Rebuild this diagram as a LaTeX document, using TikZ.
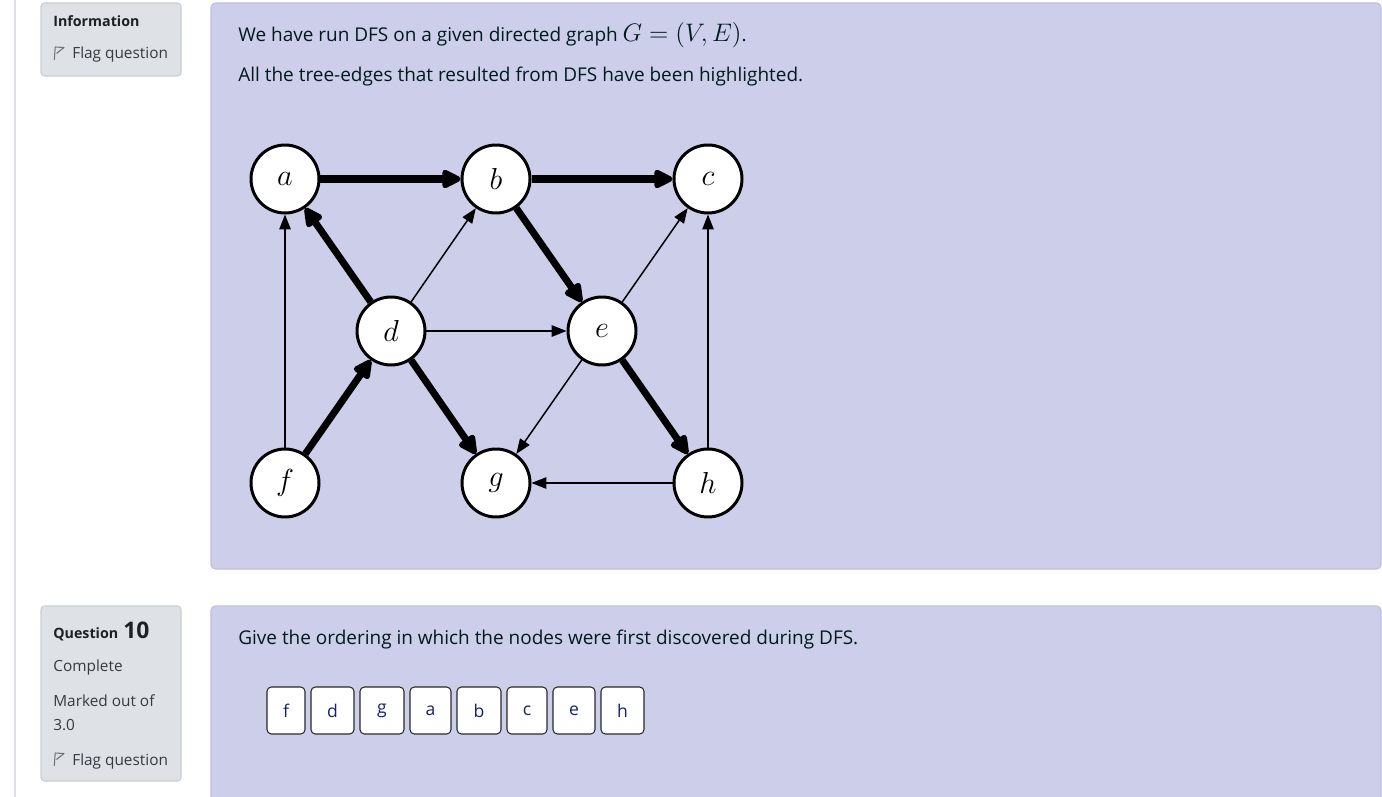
\documentclass[tikz,border=0pt]{standalone}
\usepackage{fontspec}
\setmainfont{Open Sans}
\usetikzlibrary{arrows.meta}
\definecolor{lav}{RGB}{205,206,234}
\definecolor{lavborder}{RGB}{190,191,222}
\definecolor{sidegray}{RGB}{222,226,230}
\definecolor{sideborder}{RGB}{200,205,211}
\definecolor{linegray}{RGB}{222,226,230}
\definecolor{maintext}{RGB}{0,26,30}
\definecolor{sidetext}{RGB}{55,58,66}
\definecolor{sidedark}{RGB}{29,33,37}
\definecolor{flaggray}{RGB}{110,116,122}
\definecolor{ansborder}{RGB}{40,40,40}
\definecolor{anstext}{RGB}{20,35,110}
\newcommand{\bigmath}[1]{{\fontsize{14}{16}\selectfont$#1$}}
\tikzset{
  vert/.style={circle, draw=black, fill=white, line width=1.7pt, minimum size=68*0.02cm, inner sep=0pt, font=\fontsize{16}{18}\selectfont},
  treeedge/.style={line width=4pt, -{Triangle[length=12.5pt,width=11.5pt,round]}},
  otheredge/.style={line width=0.85pt, -{Triangle[length=8.5pt,width=6.5pt]}},
  sidebox/.style={fill=sidegray, draw=sideborder, line width=0.6pt, rounded corners=2pt},
  qbox/.style={fill=lav, draw=lavborder, line width=0.6pt, rounded corners=2.5pt},
  ansbox/.style={fill=white, draw=ansborder, line width=0.6pt, rounded corners=2.5pt},
  anslabel/.style={font=\fontsize{10}{12}\selectfont, text=anstext},
  maintxt/.style={anchor=base west, inner sep=0pt, font=\fontsize{10.8}{13}\selectfont, text=maintext},
  sidetxt/.style={anchor=base west, inner sep=0pt, font=\fontsize{8.75}{10}\selectfont, text=sidetext},
  sidebold/.style={anchor=base west, inner sep=0pt, font=\fontsize{8.1}{10}\selectfont\bfseries, text=sidedark},
  flagicon/.style={draw=flaggray, line width=0.6pt, line join=round}
}
\begin{document}
\begin{tikzpicture}[x=0.02cm, y=-0.02cm]
\useasboundingbox (0,0) rectangle (1382,797);
\fill[white] (0,0) rectangle (1382,797);
\begin{scope}
\clip (0,0) rectangle (1382,797);
% left rule
\draw[linegray, line width=0.6pt] (15,0) -- (15,797);
% info box
\draw[sidebox] (41,3) rectangle (181,76);
\node[sidebold] (info) at (53,27) {Information};
\draw[flagicon] (54.3,60) -- (55.2,47) -- (64,47.5) -- (56.5,53.5);
\node[sidetxt] (flag1) at (72,59) {Flag question};
% question box
\draw[sidebox] (41,606) rectangle (181,781);
\node[sidebold] (qlabel) at (53,638) {Question};
\node[sidebold, font=\fontsize{13}{15}\selectfont\bfseries] (qnum) at (123,638) {10};
\node[sidetxt] (complete) at (53,671) {Complete};
\node[sidetxt] (marked) at (53,706) {Marked out of};
\node[sidetxt] (mark) at (53,730) {3.0};
\draw[flagicon] (54.3,766) -- (55.2,753) -- (64,753.5) -- (56.5,759.5);
\node[sidetxt] (flag2) at (72,765) {Flag question};
% formulation boxes
\draw[qbox] (211,3) rectangle (1381,569);
\draw[qbox] (211,606) rectangle (1381,820);
\end{scope}
% texts
\node[maintxt] (t1) at (238,42) {We have run DFS on a given directed graph \bigmath{G=(V,E)}.};
\node[maintxt] (t2) at (238,82) {All the tree-edges that resulted from DFS have been highlighted.};
\node[maintxt] (t3) at (238,644) {Give the ordering in which the nodes were first discovered during DFS.};
% graph
\node[vert] (a) at (285,179) {$a$};
\node[vert] (b) at (496,179) {$b$};
\node[vert] (c) at (708,179) {$c$};
\node[vert] (d) at (391,331) {$d$};
\node[vert] (e) at (602,331) {$e$};
\node[vert] (f) at (285,483) {$f$};
\node[vert] (g) at (496,483) {$g$};
\node[vert] (h) at (708,483) {$h$};
\draw[treeedge] (a) -- (b);
\draw[treeedge] (b) -- (c);
\draw[treeedge] (b) -- (e);
\draw[treeedge] (e) -- (h);
\draw[treeedge] (d) -- (a);
\draw[treeedge] (f) -- (d);
\draw[treeedge] (d) -- (g);
\draw[otheredge] (f) -- (a);
\draw[otheredge] (d) -- (b);
\draw[otheredge] (d) -- (e);
\draw[otheredge] (e) -- (c);
\draw[otheredge] (e) -- (g);
\draw[otheredge] (h) -- (g);
\draw[otheredge] (h) -- (c);
% answer boxes
\draw[ansbox] (267,687) rectangle (305,734);
\node[anslabel] (s1) at (286,711) {f};
\draw[ansbox] (311,687) rectangle (354,734);
\node[anslabel] (s2) at (332.5,711) {d};
\draw[ansbox] (360,687) rectangle (404,734);
\node[anslabel] (s3) at (382,711) {g};
\draw[ansbox] (410,687) rectangle (451,734);
\node[anslabel] (s4) at (430.5,711) {a};
\draw[ansbox] (457,687) rectangle (501,734);
\node[anslabel] (s5) at (479,711) {b};
\draw[ansbox] (507,687) rectangle (547,734);
\node[anslabel] (s6) at (527,711) {c};
\draw[ansbox] (553,687) rectangle (595,734);
\node[anslabel] (s7) at (574,711) {e};
\draw[ansbox] (601,687) rectangle (644,734);
\node[anslabel] (s8) at (622.5,711) {h};
\end{tikzpicture}
\end{document}
